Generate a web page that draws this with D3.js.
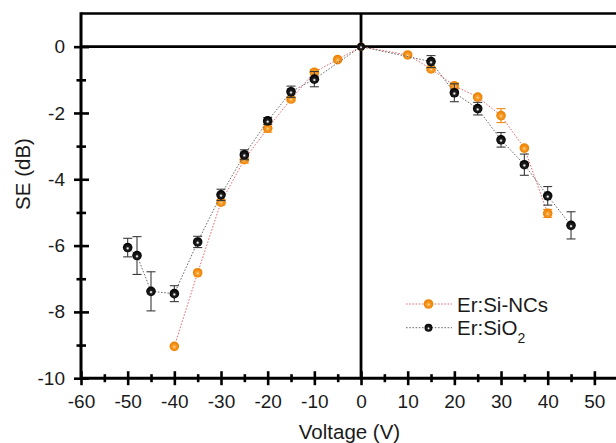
<!DOCTYPE html>
<html>
<head>
<meta charset="utf-8">
<script src="https://cdn.jsdelivr.net/npm/d3@7"></script>
<style>
  html, body { margin: 0; padding: 0; background: #fff; overflow: hidden; }
  svg { display: block; font-family: "Liberation Sans", Arial, sans-serif; }
</style>
</head>
<body>
<svg id="chart" width="616" height="443"></svg>
<script>
// Shielding effectiveness versus applied voltage
const ncVoltage = [-40, -35, -30, -25, -20, -15, -10, -5, 0, 10, 15, 20, 25, 30, 35, 40];
const ncSE      = [-9.04, -6.82, -4.69, -3.41, -2.46, -1.58, -0.77, -0.39, 0, -0.25, -0.67, -1.18, -1.52, -2.08, -3.06, -5.03];
const ncErr     = [0, 0, 0.08, 0.1, 0.12, 0.06, 0.08, 0, 0, 0, 0.05, 0.08, 0.05, 0.21, 0.05, 0.12];

const oxVoltage = [-50, -48, -45, -40, -35, -30, -25, -20, -15, -10, 0, 15, 20, 25, 30, 35, 40, 45];
const oxSE      = [-6.06, -6.30, -7.38, -7.45, -5.89, -4.47, -3.26, -2.24, -1.36, -0.98, 0, -0.45, -1.39, -1.87, -2.81, -3.56, -4.50, -5.39];
const oxErr     = [0.28, 0.57, 0.59, 0.24, 0.17, 0.17, 0.15, 0.1, 0.17, 0.23, 0, 0.18, 0.27, 0.19, 0.22, 0.32, 0.28, 0.41];

const xMajor = [-60, -50, -40, -30, -20, -10, 0, 10, 20, 30, 40, 50];
const xMinor = [-55, -45, -35, -25, -15, -5, 5, 15, 25, 35, 45];
const yMajor = [-10, -8, -6, -4, -2, 0];
const yMinor = [-9, -7, -5, -3, -1];

const seriesNames = ["Er:Si-NCs", "Er:SiO"];

(function () {
const svg = d3.select("#chart");
const plotLeft = 81, plotRight = 617.7, plotTop = 13.5, plotBottom = 378.2;

const x = d3.scaleLinear().domain([-60, 55]).range([plotLeft, plotRight]);
const y = d3.scaleLinear().domain([-10, 1]).range([plotBottom, plotTop]);

// gradients for the shaded ball markers
const defs = svg.append("defs");
const gO = defs.append("radialGradient").attr("id", "ballOrange").attr("cx", "50%").attr("cy", "55%").attr("r", "55%");
gO.append("stop").attr("offset", "0%").attr("stop-color", "#ffe6bf");
gO.append("stop").attr("offset", "22%").attr("stop-color", "#f8a83a");
gO.append("stop").attr("offset", "60%").attr("stop-color", "#f28c12");
gO.append("stop").attr("offset", "100%").attr("stop-color", "#e88000");
const gB = defs.append("radialGradient").attr("id", "ballBlack").attr("cx", "50%").attr("cy", "58%").attr("r", "55%");
gB.append("stop").attr("offset", "0%").attr("stop-color", "#ffffff");
gB.append("stop").attr("offset", "12%").attr("stop-color", "#d0d0d0");
gB.append("stop").attr("offset", "32%").attr("stop-color", "#202020");
gB.append("stop").attr("offset", "100%").attr("stop-color", "#000");

// frame and zero lines
svg.append("line").attr("x1", plotLeft).attr("x2", 616).attr("y1", y(1)).attr("y2", y(1))
  .attr("stroke", "#000").attr("stroke-width", 2.6);
svg.append("line").attr("x1", plotLeft).attr("x2", 616).attr("y1", y(0)).attr("y2", y(0))
  .attr("stroke", "#000").attr("stroke-width", 2.6);
svg.append("line").attr("x1", x(0)).attr("x2", x(0)).attr("y1", y(1)).attr("y2", plotBottom)
  .attr("stroke", "#000").attr("stroke-width", 2.8);

// axes with ticks crossing the axis line
const fmt = d => String(d);
function styleAxis(g, before, after, horizontal) {
  g.select(".domain").remove();
  g.selectAll(".tick line")
    .attr("stroke", "#000").attr("stroke-width", 2.6)
    .each(function () {
      const l = d3.select(this);
      if (horizontal) l.attr("y1", -before).attr("y2", after);
      else l.attr("x1", -before).attr("x2", after);
    });
  g.selectAll(".tick text").attr("fill", "#1a1a1a").style("font-size", "19px")
    .style("font-family", "'Liberation Sans', Arial, sans-serif");
}

const xAxisG = svg.append("g").attr("transform", `translate(0,${plotBottom})`)
  .call(d3.axisBottom(x).tickValues(xMajor).tickFormat(fmt).tickSize(7).tickPadding(9.5));
styleAxis(xAxisG, 7, 7, true);
const xMinorG = svg.append("g").attr("transform", `translate(0,${plotBottom})`)
  .call(d3.axisBottom(x).tickValues(xMinor).tickFormat("").tickSize(4));
styleAxis(xMinorG, 4, 4, true);

const yAxisG = svg.append("g").attr("transform", `translate(${plotLeft},0)`)
  .call(d3.axisLeft(y).tickValues(yMajor).tickFormat(fmt).tickSize(7).tickPadding(9));
styleAxis(yAxisG, 7, 8, false);
const yMinorG = svg.append("g").attr("transform", `translate(${plotLeft},0)`)
  .call(d3.axisLeft(y).tickValues(yMinor).tickFormat("").tickSize(4));
styleAxis(yMinorG, 4.5, 5, false);

svg.append("line").attr("x1", plotLeft).attr("x2", 616).attr("y1", plotBottom).attr("y2", plotBottom)
  .attr("stroke", "#000").attr("stroke-width", 3);
svg.append("line").attr("x1", plotLeft).attr("x2", plotLeft).attr("y1", y(1) - 1.3).attr("y2", plotBottom + 1.5)
  .attr("stroke", "#000").attr("stroke-width", 3);

// axis titles
svg.append("text").attr("x", 349.5).attr("y", 439).attr("text-anchor", "middle")
  .style("font-size", "20.5px").attr("fill", "#1a1a1a").text("Voltage (V)");
svg.append("text").attr("transform", "translate(30,174) rotate(-90)").attr("text-anchor", "middle")
  .style("font-size", "20.5px").attr("fill", "#1a1a1a").text("SE (dB)");

// series
const nc = ncVoltage.map((v, i) => ({ v, se: ncSE[i], e: ncErr[i] }));
const ox = oxVoltage.map((v, i) => ({ v, se: oxSE[i], e: oxErr[i] }));
const line = d3.line().x(d => x(d.v)).y(d => y(d.se));

function drawSeries(data, lineColor, barColor, fill) {
  svg.append("path").datum(data).attr("d", line).attr("fill", "none")
    .attr("stroke", lineColor).attr("stroke-width", 1).attr("stroke-dasharray", "1.6,1.6");
  const eb = svg.append("g").attr("stroke", barColor).attr("stroke-width", 1.1);
  data.filter(d => d.e > 0).forEach(d => {
    eb.append("line").attr("x1", x(d.v)).attr("x2", x(d.v)).attr("y1", y(d.se + d.e)).attr("y2", y(d.se - d.e));
    eb.append("line").attr("x1", x(d.v) - 4.5).attr("x2", x(d.v) + 4.5).attr("y1", y(d.se + d.e)).attr("y2", y(d.se + d.e));
    eb.append("line").attr("x1", x(d.v) - 4.5).attr("x2", x(d.v) + 4.5).attr("y1", y(d.se - d.e)).attr("y2", y(d.se - d.e));
  });
  svg.append("g").selectAll("circle").data(data).join("circle")
    .attr("cx", d => x(d.v)).attr("cy", d => y(d.se))
    .attr("r", d => d.v === 0 ? 4 : 4.8).attr("fill", fill);
}
drawSeries(nc, "#e46a72", "#f08a12", "url(#ballOrange)");
drawSeries(ox, "#6d6d6d", "#3a3a3a", "url(#ballBlack)");

// legend
const lg = svg.append("g");
lg.append("line").attr("x1", 406).attr("x2", 452).attr("y1", 304).attr("y2", 304)
  .attr("stroke", "#e46a72").attr("stroke-width", 1).attr("stroke-dasharray", "1.6,1.6");
lg.append("circle").attr("cx", 428.5).attr("cy", 304).attr("r", 4.8).attr("fill", "url(#ballOrange)");
lg.append("text").attr("x", 457).attr("y", 311.5).style("font-size", "20.5px").attr("fill", "#1a1a1a").text(seriesNames[0]);
lg.append("line").attr("x1", 406).attr("x2", 452).attr("y1", 327.7).attr("y2", 327.7)
  .attr("stroke", "#6d6d6d").attr("stroke-width", 1).attr("stroke-dasharray", "1.6,1.6");
lg.append("circle").attr("cx", 428.5).attr("cy", 327.7).attr("r", 4).attr("fill", "url(#ballBlack)");
const t2 = lg.append("text").attr("x", 457).attr("y", 335).style("font-size", "20.5px").attr("fill", "#1a1a1a");
t2.append("tspan").text(seriesNames[1]);
t2.append("tspan").attr("dy", 8).style("font-size", "14px").text("2");
})();
</script>
</body>
</html>
